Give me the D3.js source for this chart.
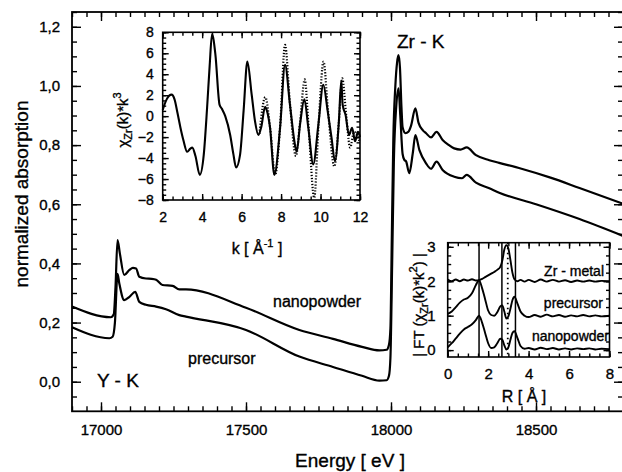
<!DOCTYPE html>
<html>
<head>
<meta charset="utf-8">
<script src="https://cdn.jsdelivr.net/npm/d3@7"></script>
<style>
  body { margin: 0; background: #fff; }
  svg { display: block; font-family: "Liberation Sans", Arial, sans-serif; }
  svg text { fill: #000; stroke: #000; stroke-width: 0.35px; }
</style>
</head>
<body>
<div id="chart"></div>
<script>
// main spectra: energy [eV] / normalized absorption
var nanoE = [16900, 17034, 17044, 17050, 17057, 17065, 17080, 17098, 17110, 17121, 17132, 17155, 17175, 17190, 17212, 17247, 17270, 17293, 17500, 17684, 17800, 17900, 17960, 17985, 17993, 17998, 18003, 18008, 18015, 18021, 18026, 18031, 18036, 18040, 18050, 18060, 18069, 18084, 18095, 18110, 18121, 18138, 18157, 18178, 18200, 18218, 18240, 18261, 18293, 18339, 18373, 18450, 18550, 18650, 18800];
var nanoA = [0.254, 0.218, 0.228, 0.32, 0.479, 0.434, 0.361, 0.378, 0.385, 0.383, 0.355, 0.349, 0.348, 0.345, 0.327, 0.324, 0.312, 0.312, 0.25, 0.175, 0.145, 0.118, 0.106, 0.108, 0.125, 0.18, 0.5, 0.82, 1.0, 1.08, 1.104, 1.06, 0.93, 0.86, 0.84, 0.845, 0.865, 0.924, 0.875, 0.85, 0.84, 0.826, 0.845, 0.817, 0.8, 0.789, 0.785, 0.792, 0.766, 0.749, 0.74, 0.72, 0.69, 0.655, 0.602];
var precE = [16900, 17029, 17040, 17048, 17057, 17063, 17080, 17098, 17118, 17132, 17155, 17190, 17224, 17270, 17293, 17500, 17684, 17800, 17900, 17960, 17985, 17993, 17998, 18004, 18010, 18018, 18026, 18032, 18040, 18046, 18052, 18063, 18075, 18084, 18098, 18121, 18138, 18157, 18178, 18218, 18245, 18261, 18293, 18339, 18373, 18500, 18650, 18800];
var precA = [0.184, 0.147, 0.152, 0.2, 0.365, 0.333, 0.276, 0.287, 0.304, 0.27, 0.26, 0.254, 0.245, 0.225, 0.22, 0.175, 0.085, 0.05, 0.02, 0.004, 0.005, 0.02, 0.08, 0.4, 0.75, 0.93, 0.992, 0.9, 0.77, 0.75, 0.745, 0.705, 0.772, 0.834, 0.783, 0.738, 0.72, 0.744, 0.716, 0.693, 0.688, 0.699, 0.673, 0.654, 0.639, 0.6, 0.55, 0.493];

// inset 1: chi(k)*k^3, line and dotted data
var chiK = [2.0, 2.2, 2.45, 2.6, 2.75, 2.9, 3.05, 3.24, 3.4, 3.5, 3.66, 3.88, 4.08, 4.25, 4.38, 4.5, 4.67, 4.88, 5.0, 5.17, 5.42, 5.58, 5.72, 5.92, 6.1, 6.29, 6.51, 6.68, 6.85, 7.0, 7.19, 7.3, 7.44, 7.66, 7.95, 8.2, 8.45, 8.7, 8.79, 8.96, 9.18, 9.38, 9.63, 9.89, 10.14, 10.36, 10.56, 10.73, 10.93, 11.05, 11.12, 11.27, 11.44, 11.6, 11.75, 11.9, 12.0];
var chiV = [0.6, 1.6, 2.05, 1.6, 0.3, -1.1, -2.3, -3.4, -3.1, -3.0, -3.8, -5.6, -3.7, 0.8, 4.8, 7.8, 5.9, 1.1, 0.7, 0.0, -1.8, -3.6, -4.9, -3.7, 0.5, 5.2, 2.05, -0.5, -1.8, -1.0, 0.9, 0.4, -1.1, -5.6, -1.1, 4.9, 1.1, -2.7, -3.4, -0.8, 1.6, -1.1, -4.6, -0.8, 3.0, 0.5, -2.1, -4.3, -0.5, 3.4, 1.1, 0.1, -1.8, -1.1, -2.4, -1.5, -2.0];
var dotK = [6.9, 7.2, 7.45, 7.7, 7.95, 8.2, 8.45, 8.75, 8.95, 9.2, 9.4, 9.68, 9.9, 10.15, 10.38, 10.7, 10.93, 11.1, 11.3, 11.5, 11.7, 12.0];
var dotV = [-1.7, 1.8, -1.2, -5.6, -1.0, 6.8, 1.2, -3.8, -0.8, 3.5, -1.2, -7.8, -0.8, 5.2, 0.5, -4.8, -0.5, 3.6, 0.1, -3.0, -1.5, -2.5];

// inset 2: |FT| vs R
var rGrid = [0, 0.2, 0.4, 0.6, 0.8, 1.0, 1.2, 1.4, 1.55, 1.7, 1.85, 2.0, 2.15, 2.3, 2.45, 2.6, 2.7, 2.8, 2.9, 3.0, 3.1, 3.2, 3.3, 3.45, 3.6, 3.8, 4.0, 4.3, 4.6, 4.9, 5.2, 5.5, 5.8, 6.1, 6.4, 6.7, 7.0, 7.3, 7.6, 8.0];
var ftMetal = [2.05, 2.0, 2.05, 2.0, 2.05, 2.02, 2.06, 2.02, 2.03, 2.07, 2.12, 2.17, 2.22, 2.27, 2.33, 2.42, 2.6, 2.92, 3.05, 2.95, 2.62, 2.25, 2.06, 2.0, 2.04, 1.99, 2.04, 1.98, 2.05, 1.99, 2.04, 1.99, 2.03, 1.98, 2.02, 1.99, 2.02, 1.99, 2.01, 2.0];
var ftPrec = [1.05, 1.12, 1.25, 1.38, 1.47, 1.52, 1.65, 1.9, 2.03, 1.8, 1.48, 1.15, 1.02, 1.0, 1.1, 1.27, 1.3, 1.12, 0.92, 0.98, 1.2, 1.45, 1.55, 1.35, 1.12, 1.0, 0.96, 1.02, 0.97, 1.03, 0.98, 1.02, 0.97, 1.01, 0.98, 1.02, 0.98, 1.01, 0.98, 1.0];
var ftNano = [0.08, 0.2, 0.34, 0.48, 0.6, 0.67, 0.75, 0.88, 1.0, 0.8, 0.5, 0.2, 0.06, 0.08, 0.2, 0.33, 0.3, 0.14, 0.02, 0.08, 0.3, 0.5, 0.55, 0.35, 0.12, 0.04, 0.06, 0.02, 0.07, 0.03, 0.06, 0.02, 0.05, 0.02, 0.05, 0.03, 0.05, 0.02, 0.04, 0.03];
var rLines = [1.55, 2.68, 3.35];
var rDotted = [2.97];

var W = 622, H = 472;
var svg = d3.select("#chart").append("svg")
    .attr("width", W)
    .attr("height", H);

var comma = function(d) { return d3.format(".1f")(d).replace(".", ","); };

// draw one axis and strip the library's default styling
function drawAxis(g, axis, fontSize) {
    g.call(axis);
    g.select(".domain").remove();
    g.attr("font-family", null).attr("font-size", fontSize);
    g.selectAll("line").attr("stroke", "#000").attr("stroke-width", 1.4);
    g.selectAll("text").attr("fill", "#000");
    return g;
}

// ---------- main plot ----------
var x = d3.scaleLinear().domain([16900, 18800]).range([72, 623]);
var y = d3.scaleLinear().domain([-0.1, 1.25]).range([411.3, 12]);

var main = svg.append("g");

drawAxis(main.append("g").attr("transform", "translate(0,411.3)"),
    d3.axisBottom(x).tickValues(d3.range(16900, 18801, 50)).tickSize(-5).tickFormat(""), 15);
drawAxis(main.append("g").attr("transform", "translate(0,411.3)"),
    d3.axisBottom(x).tickValues(d3.range(17000, 18501, 500)).tickSize(-9).tickPadding(13).tickFormat(d3.format("d")), 15);
drawAxis(main.append("g").attr("transform", "translate(0,12)"),
    d3.axisTop(x).tickValues(d3.range(16900, 18801, 50)).tickSize(-5).tickFormat(""), 15);
drawAxis(main.append("g").attr("transform", "translate(0,12)"),
    d3.axisTop(x).tickValues(d3.range(17000, 18501, 500)).tickSize(-9).tickFormat(""), 15);
drawAxis(main.append("g").attr("transform", "translate(72,0)"),
    d3.axisLeft(y).tickValues(d3.range(-0.05, 1.26, 0.05)).tickSize(-5).tickFormat(""), 15);
drawAxis(main.append("g").attr("transform", "translate(72,0)"),
    d3.axisLeft(y).tickValues(d3.range(0, 1.21, 0.2)).tickSize(-9).tickPadding(12).tickFormat(comma), 15);
drawAxis(main.append("g").attr("transform", "translate(623,0)"),
    d3.axisRight(y).tickValues(d3.range(-0.05, 1.26, 0.05)).tickSize(-5).tickFormat(""), 15);
drawAxis(main.append("g").attr("transform", "translate(623,0)"),
    d3.axisRight(y).tickValues(d3.range(0, 1.21, 0.2)).tickSize(-9).tickFormat(""), 15);

main.append("rect")
    .attr("x", 72).attr("y", 12)
    .attr("width", 551).attr("height", 399.3)
    .attr("fill", "none").attr("stroke", "#000").attr("stroke-width", 1.8);

var mainLine = d3.line()
    .x(function(d) { return x(d[0]); })
    .y(function(d) { return y(d[1]); })
    .curve(d3.curveMonotoneX);

main.append("path")
    .datum(d3.zip(nanoE, nanoA))
    .attr("d", mainLine)
    .attr("fill", "none").attr("stroke", "#000").attr("stroke-width", 2.2);
main.append("path")
    .datum(d3.zip(precE, precA))
    .attr("d", mainLine)
    .attr("fill", "none").attr("stroke", "#000").attr("stroke-width", 2.2);

main.append("text").attr("x", 397).attr("y", 48).attr("font-size", 19).text("Zr - K");
main.append("text").attr("x", 97).attr("y", 387).attr("font-size", 19).text("Y - K");
main.append("text").attr("x", 273).attr("y", 307).attr("font-size", 16).text("nanopowder");
main.append("text").attr("x", 188).attr("y", 364).attr("font-size", 16).text("precursor");

main.append("text")
    .attr("x", 350).attr("y", 467)
    .attr("text-anchor", "middle").attr("font-size", 19)
    .text("Energy [ eV ]");
main.append("text")
    .attr("transform", "translate(28,194) rotate(-90)")
    .attr("text-anchor", "middle").attr("font-size", 19)
    .text("normalized absorption");

// ---------- inset 1: chi(k) ----------
var x1 = d3.scaleLinear().domain([2, 12]).range([162.7, 360]);
var y1 = d3.scaleLinear().domain([-8, 8]).range([200, 32.3]);
var in1 = svg.append("g");

in1.append("rect")
    .attr("x", 162.7).attr("y", 32.3)
    .attr("width", 197.3).attr("height", 167.7)
    .attr("fill", "#fff");

drawAxis(in1.append("g").attr("transform", "translate(0,200)"),
    d3.axisBottom(x1).tickValues(d3.range(2, 12.01, 0.5)).tickSize(-3.5).tickFormat(""), 14);
drawAxis(in1.append("g").attr("transform", "translate(0,200)"),
    d3.axisBottom(x1).tickValues(d3.range(2, 12.01, 2)).tickSize(-6).tickPadding(12).tickFormat(d3.format("d")), 14);
drawAxis(in1.append("g").attr("transform", "translate(0,32.3)"),
    d3.axisTop(x1).tickValues(d3.range(2, 12.01, 0.5)).tickSize(-3.5).tickFormat(""), 14);
drawAxis(in1.append("g").attr("transform", "translate(0,32.3)"),
    d3.axisTop(x1).tickValues(d3.range(2, 12.01, 2)).tickSize(-6).tickFormat(""), 14);
drawAxis(in1.append("g").attr("transform", "translate(162.7,0)"),
    d3.axisLeft(y1).tickValues(d3.range(-8, 8.01, 0.5)).tickSize(-3.5).tickFormat(""), 14);
drawAxis(in1.append("g").attr("transform", "translate(162.7,0)"),
    d3.axisLeft(y1).tickValues(d3.range(-8, 8.01, 2)).tickSize(-6).tickPadding(9).tickFormat(d3.format("d")), 14);
drawAxis(in1.append("g").attr("transform", "translate(360,0)"),
    d3.axisRight(y1).tickValues(d3.range(-8, 8.01, 0.5)).tickSize(-3.5).tickFormat(""), 14);
drawAxis(in1.append("g").attr("transform", "translate(360,0)"),
    d3.axisRight(y1).tickValues(d3.range(-8, 8.01, 2)).tickSize(-6).tickFormat(""), 14);

in1.append("rect")
    .attr("x", 162.7).attr("y", 32.3)
    .attr("width", 197.3).attr("height", 167.7)
    .attr("fill", "none").attr("stroke", "#000").attr("stroke-width", 1.6);

var chiLine = d3.line()
    .x(function(d) { return x1(d[0]); })
    .y(function(d) { return y1(d[1]); })
    .curve(d3.curveMonotoneX);

in1.append("path")
    .datum(d3.zip(dotK, dotV))
    .attr("d", chiLine)
    .attr("fill", "none").attr("stroke", "#000").attr("stroke-width", 2.2)
    .attr("stroke-dasharray", "1.2,1.8");
in1.append("path")
    .datum(d3.zip(chiK, chiV))
    .attr("d", chiLine)
    .attr("fill", "none").attr("stroke", "#000").attr("stroke-width", 2.1);

var kLab = in1.append("text")
    .attr("x", 257).attr("y", 254)
    .attr("text-anchor", "middle").attr("font-size", 16);
kLab.append("tspan").text("k [ Å");
kLab.append("tspan").attr("font-size", 11).attr("dy", -7).text("-1");
kLab.append("tspan").attr("dy", 7).text(" ]");

var chiLab = in1.append("text")
    .attr("transform", "translate(128,120) rotate(-90)")
    .attr("text-anchor", "middle").attr("font-size", 15);
chiLab.append("tspan").text("χ");
chiLab.append("tspan").attr("font-size", 11).attr("dy", 4).text("Zr");
chiLab.append("tspan").attr("dy", -4).text("(k)*k");
chiLab.append("tspan").attr("font-size", 11).attr("dy", -7).text("3");

// ---------- inset 2: Fourier transform ----------
var x2 = d3.scaleLinear().domain([0, 8]).range([447.7, 609.5]);
var y2 = d3.scaleLinear().domain([-0.2, 3.12]).range([357, 242.7]);
var in2 = svg.append("g");

in2.append("rect")
    .attr("x", 447.7).attr("y", 242.7)
    .attr("width", 161.8).attr("height", 114.3)
    .attr("fill", "#fff");

drawAxis(in2.append("g").attr("transform", "translate(0,357)"),
    d3.axisBottom(x2).tickValues(d3.range(0, 8.01, 0.5)).tickSize(-3.5).tickFormat(""), 15);
drawAxis(in2.append("g").attr("transform", "translate(0,357)"),
    d3.axisBottom(x2).tickValues(d3.range(0, 8.01, 2)).tickSize(-6).tickPadding(11).tickFormat(d3.format("d")), 15);
drawAxis(in2.append("g").attr("transform", "translate(0,242.7)"),
    d3.axisTop(x2).tickValues(d3.range(0, 8.01, 0.5)).tickSize(-3.5).tickFormat(""), 15);
drawAxis(in2.append("g").attr("transform", "translate(0,242.7)"),
    d3.axisTop(x2).tickValues(d3.range(0, 8.01, 2)).tickSize(-6).tickFormat(""), 15);
drawAxis(in2.append("g").attr("transform", "translate(447.7,0)"),
    d3.axisLeft(y2).tickValues(d3.range(0, 3.01, 0.25)).tickSize(-3.5).tickFormat(""), 15);
drawAxis(in2.append("g").attr("transform", "translate(447.7,0)"),
    d3.axisLeft(y2).tickValues(d3.range(0, 3.01, 1)).tickSize(-6).tickPadding(12).tickFormat(d3.format("d")), 15);
drawAxis(in2.append("g").attr("transform", "translate(609.5,0)"),
    d3.axisRight(y2).tickValues(d3.range(0, 3.01, 0.25)).tickSize(-3.5).tickFormat(""), 15);
drawAxis(in2.append("g").attr("transform", "translate(609.5,0)"),
    d3.axisRight(y2).tickValues(d3.range(0, 3.01, 1)).tickSize(-6).tickFormat(""), 15);

in2.selectAll(".rline")
    .data(rLines)
    .enter().append("line")
    .attr("class", "rline")
    .attr("x1", function(d) { return x2(d); })
    .attr("x2", function(d) { return x2(d); })
    .attr("y1", 242.7).attr("y2", 357)
    .attr("stroke", "#000").attr("stroke-width", 1.5);
in2.selectAll(".rdot")
    .data(rDotted)
    .enter().append("line")
    .attr("class", "rdot")
    .attr("x1", function(d) { return x2(d); })
    .attr("x2", function(d) { return x2(d); })
    .attr("y1", 242.7).attr("y2", 357)
    .attr("stroke", "#000").attr("stroke-width", 1.8)
    .attr("stroke-dasharray", "1.5,3.5");

var ftLine = d3.line()
    .x(function(d) { return x2(d[0]); })
    .y(function(d) { return y2(d[1]); })
    .curve(d3.curveMonotoneX);

[ftMetal, ftPrec, ftNano].forEach(function(vals) {
    in2.append("path")
        .datum(d3.zip(rGrid, vals))
        .attr("d", ftLine)
        .attr("fill", "none").attr("stroke", "#000").attr("stroke-width", 1.9);
});

in2.append("rect")
    .attr("x", 447.7).attr("y", 242.7)
    .attr("width", 161.8).attr("height", 114.3)
    .attr("fill", "none").attr("stroke", "#000").attr("stroke-width", 1.6);

in2.append("text").attr("x", 604).attr("y", 276).attr("text-anchor", "end").attr("font-size", 14).text("Zr - metal");
in2.append("text").attr("x", 603).attr("y", 308).attr("text-anchor", "end").attr("font-size", 14).text("precursor");
in2.append("text").attr("x", 609).attr("y", 341).attr("text-anchor", "end").attr("font-size", 14).text("nanopowder");

in2.append("text")
    .attr("x", 524).attr("y", 402)
    .attr("text-anchor", "middle").attr("font-size", 16)
    .text("R [ Å ]");

var ftLab = in2.append("text")
    .attr("transform", "translate(424,305) rotate(-90)")
    .attr("text-anchor", "middle").attr("font-size", 15);
ftLab.append("tspan").text("| FT (χ");
ftLab.append("tspan").attr("font-size", 11).attr("dy", 4).text("Zr");
ftLab.append("tspan").attr("dy", -4).text("(k)*k");
ftLab.append("tspan").attr("font-size", 11).attr("dy", -7).text("2");
ftLab.append("tspan").attr("dy", 7).text(") |");
</script>
</body>
</html>
